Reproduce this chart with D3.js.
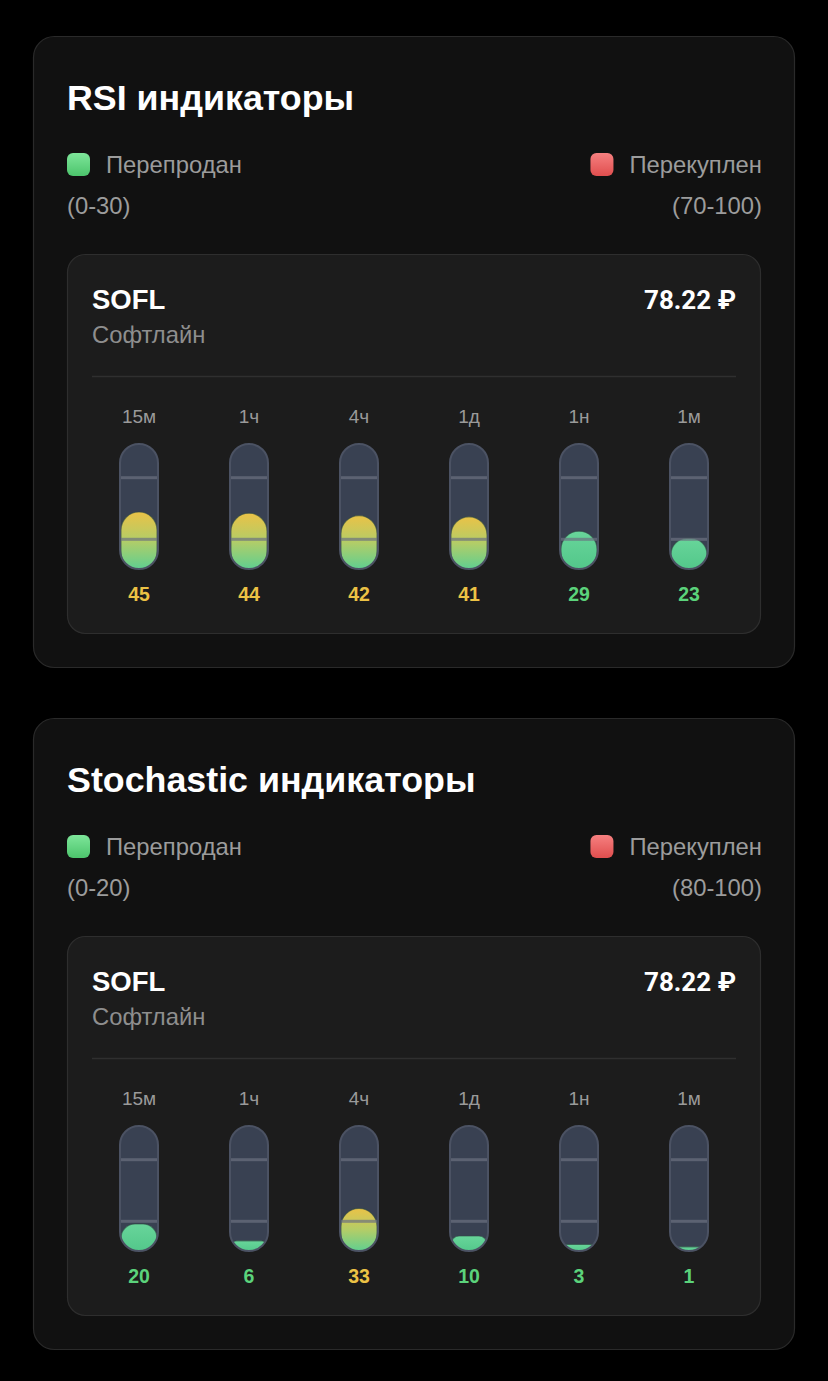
<!DOCTYPE html>
<html><head><meta charset="utf-8">
<script src="https://cdn.jsdelivr.net/npm/d3@7/dist/d3.min.js"></script>
<style>
html,body{margin:0;padding:0;background:#000;}
svg{display:block;}
</style></head>
<body>
<script>
// ---- data ----
const timeframes = ["15м", "1ч", "4ч", "1д", "1н", "1м"];
const rsiValues = [45, 44, 42, 41, 29, 23];
const stochValues = [20, 6, 33, 10, 3, 1];
const rsiZones = [30, 70];
const stochZones = [20, 80];
const titles = ["RSI индикаторы", "Stochastic индикаторы"];
const legendLabels = ["Перепродан", "Перекуплен"];
const ticker = "SOFL";
const companyName = "Софтлайн";
const priceLabel = "78.22 ₽";

const W = 828, H = 1381;
const FONT = "Liberation Sans, Arial, sans-serif";
const svg = d3.select("body").append("svg").attr("width", W).attr("height", H);
const defs = svg.append("defs");

function lg(id, stops){
  const g = defs.append("linearGradient").attr("id", id)
    .attr("x1",0).attr("y1",0).attr("x2",0).attr("y2",1);
  stops.forEach(s => g.append("stop").attr("offset", s[0]).attr("stop-color", s[1]));
}
lg("gNeutral", [[0,"#eac247"],[0.5,"#b2cd68"],[1,"#5ccf92"]]);
lg("gGreen", [[0,"#68d59a"],[1,"#52c78a"]]);
lg("gRed", [[0,"#f07a7a"],[1,"#e05555"]]);
lg("lgGreen", [[0,"#7ee69a"],[1,"#4cc46c"]]);
lg("lgRed", [[0,"#f68080"],[1,"#e04e4e"]]);

const panels = [
  {y: 36, title: titles[0], values: rsiValues, zones: rsiZones, id: "rsi"},
  {y: 718, title: titles[1], values: stochValues, zones: stochZones, id: "st"}
];

const x = d3.scalePoint().domain(timeframes).range([139, 689]);
const tubeH = 127, tubeW = 40;

panels.forEach(p => {
  const g = svg.append("g").attr("transform", `translate(0,${p.y})`);
  g.append("rect").attr("x", 33.5).attr("y", 0.5).attr("width", 761).attr("height", 631)
    .attr("rx", 21).attr("fill", "#111111").attr("stroke", "#2a2a2a").attr("stroke-width", 1.2);
  g.append("text").attr("x", 67).attr("y", 74).text(p.title)
    .attr("font-family", FONT).attr("font-weight", 700)
    .attr("font-size", 35.8).attr("fill", "#ffffff");

  // legend
  g.append("rect").attr("x", 67).attr("y", 117).attr("width", 23).attr("height", 23).attr("rx", 6)
    .attr("fill", "url(#lgGreen)");
  g.append("text").attr("x", 106).attr("y", 137).text(legendLabels[0])
    .attr("font-family", FONT).attr("font-size", 23.8).attr("fill", "#9c9c9c");
  g.append("text").attr("x", 67).attr("y", 178).text(`(0-${p.zones[0]})`)
    .attr("font-family", FONT).attr("font-size", 23.8).attr("fill", "#9c9c9c");
  const rt = g.append("text").attr("x", 762).attr("y", 137).attr("text-anchor", "end").text(legendLabels[1])
    .attr("font-family", FONT).attr("font-size", 23.8).attr("fill", "#9c9c9c");
  const rw = rt.node().getComputedTextLength();
  g.append("rect").attr("x", 762 - rw - 16 - 23).attr("y", 117).attr("width", 23).attr("height", 23).attr("rx", 6)
    .attr("fill", "url(#lgRed)");
  g.append("text").attr("x", 762).attr("y", 178).attr("text-anchor", "end").text(`(${p.zones[1]}-100)`)
    .attr("font-family", FONT).attr("font-size", 23.8).attr("fill", "#9c9c9c");

  // card
  g.append("rect").attr("x", 67.5).attr("y", 218.5).attr("width", 693).attr("height", 379).attr("rx", 18)
    .attr("fill", "#1c1c1c").attr("stroke", "#2e2e2e").attr("stroke-width", 1.2);
  g.append("text").attr("x", 92).attr("y", 273).text(ticker)
    .attr("font-family", FONT).attr("font-weight", 700)
    .attr("font-size", 27.5).attr("fill", "#ffffff");
  g.append("text").attr("x", 92).attr("y", 307).text(companyName)
    .attr("font-family", FONT).attr("font-size", 23.8).attr("fill", "#8e8e8e");
  g.append("text").attr("x", 736).attr("y", 273).attr("text-anchor", "end").text(priceLabel)
    .attr("font-family", "Roboto, sans-serif").attr("font-weight", 700)
    .attr("font-size", 26).attr("fill", "#ffffff");
  g.append("line").attr("x1", 92).attr("x2", 736).attr("y1", 340.5).attr("y2", 340.5)
    .attr("stroke", "#2f2f2f").attr("stroke-width", 1.5);

  const tubeTop = 407;
  const tubeBottom = tubeTop + tubeH;
  const y = d3.scaleLinear().domain([0, 100]).range([tubeBottom - 4, tubeBottom - 124]);

  const cols = g.selectAll("g.col").data(timeframes.map((t, i) => ({t, v: p.values[i], i})))
    .enter().append("g").attr("class", "col").attr("transform", d => `translate(${x(d.t)},0)`);

  cols.append("text").attr("y", 387).attr("text-anchor", "middle").text(d => d.t)
    .attr("font-family", FONT).attr("font-size", 19).attr("fill", "#9a9a9a");

  cols.each(function(d){
    const c = d3.select(this);
    const cid = `clip-${p.id}-${d.i}`;
    defs.append("clipPath").attr("id", cid).append("rect")
      .attr("x", -tubeW/2 + 1).attr("y", tubeTop + 1)
      .attr("width", tubeW - 2).attr("height", tubeH - 2).attr("rx", (tubeW - 2)/2);
    c.append("rect").attr("x", -tubeW/2 + 1).attr("y", tubeTop + 1).attr("width", tubeW - 2)
      .attr("height", tubeH - 2).attr("rx", (tubeW - 2)/2).attr("fill", "#394152");
    const h = tubeBottom - y(d.v);
    const zone = d.v <= p.zones[0] ? "green" : (d.v >= p.zones[1] ? "red" : "neutral");
    const fillId = zone === "green" ? "gGreen" : zone === "red" ? "gRed" : "gNeutral";
    const fg = c.append("g").attr("clip-path", `url(#${cid})`);
    const r = Math.min(18, h / 2);
    fg.append("rect").attr("x", -18).attr("y", y(d.v)).attr("width", 36)
      .attr("height", h).attr("rx", r).attr("ry", r)
      .attr("fill", `url(#${fillId})`)
      .attr("stroke", "#2f4a42").attr("stroke-width", 1.2).attr("stroke-opacity", 0.6);
    // threshold marks
    [34.7, 96.3].forEach(off => {
      c.append("rect").attr("x", -tubeW/2 + 2).attr("y", tubeTop + off - 1.5).attr("width", tubeW - 4)
        .attr("height", 3).attr("fill", "#6b7180").attr("opacity", 0.7);
    });
    c.append("rect").attr("x", -tubeW/2 + 1).attr("y", tubeTop + 1).attr("width", tubeW - 2)
      .attr("height", tubeH - 2).attr("rx", (tubeW - 2)/2).attr("fill", "none")
      .attr("stroke", "#4b5263").attr("stroke-width", 2);
    c.append("text").attr("y", 565).attr("text-anchor", "middle").text(d.v)
      .attr("font-family", FONT).attr("font-weight", 700)
      .attr("font-size", 19.5).attr("fill", zone === "green" ? "#5bd37b" : zone === "red" ? "#f06b6b" : "#ecc245");
  });
});
</script>
</body></html>
